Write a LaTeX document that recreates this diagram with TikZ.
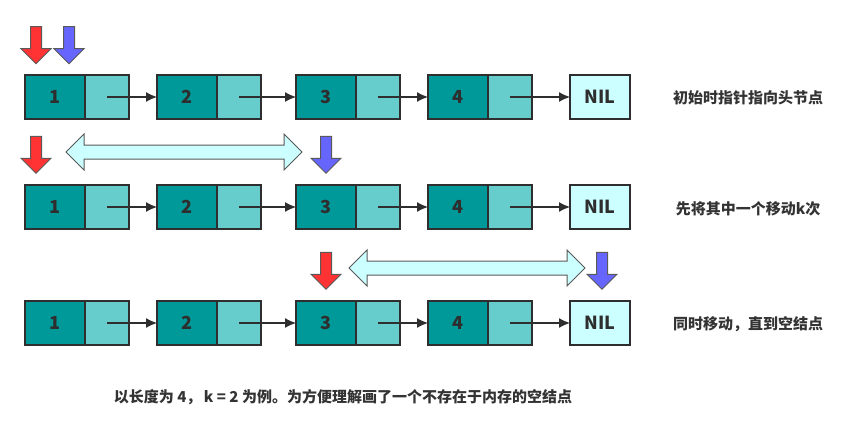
\documentclass[tikz,border=0pt]{standalone}
\usepackage{fontspec}
\setmainfont{Noto Sans CJK SC}
\usetikzlibrary{positioning, arrows.meta, shapes.arrows}

\definecolor{cellA}{HTML}{009999}
\definecolor{cellB}{HTML}{66CCCC}
\definecolor{nilfill}{HTML}{CCFFFF}
\definecolor{ptrA}{HTML}{FF3333}
\definecolor{ptrB}{HTML}{6666FF}
\definecolor{edge}{HTML}{2E2E2E}

\begin{document}
\begin{tikzpicture}[x=1pt, y=-1pt,
    cell/.style={draw=edge, line width=1.4pt, outer sep=0pt, inner sep=0pt, minimum height=44pt,
      font=\fontsize{18}{18}\selectfont\bfseries, text=edge},
    val/.style={cell, fill=cellA, minimum width=60pt},
    nxt/.style={cell, fill=cellB, minimum width=44pt},
    nilbox/.style={cell, fill=nilfill, minimum width=60pt},
    link/.style={line width=1.2pt, draw=edge, -{Latex[length=11pt, width=10pt]}},
    ptr/.style={single arrow, draw=gray!70!black, line width=1pt, rotate=-90, inner sep=5pt,
      minimum height=37pt, single arrow head extend=9.5pt, single arrow head indent=0pt},
    span/.style={double arrow, draw=gray!70!black, fill=nilfill, line width=1pt, inner sep=6.5pt,
      minimum height=236pt, double arrow head extend=11pt},
    note/.style={font=\fontsize{15}{15}\selectfont\bfseries, text=black!80}
  ]
  \useasboundingbox (0,0) rectangle (853,441);

  % the same list, three times
  \foreach \r/\y in {1/97, 2/207, 3/323}{
    \node[val, anchor=west] (d1-\r) at (25,\y) {1};
    \node[nxt, right=0pt of d1-\r] (p1-\r) {};
    \node[val, right=28pt of p1-\r] (d2-\r) {2};
    \node[nxt, right=0pt of d2-\r] (p2-\r) {};
    \node[val, right=35pt of p2-\r] (d3-\r) {3};
    \node[nxt, right=0pt of d3-\r] (p3-\r) {};
    \node[val, right=28pt of p3-\r] (d4-\r) {4};
    \node[nxt, right=0pt of d4-\r] (p4-\r) {};
    \node[nilbox, right=38pt of p4-\r] (nil-\r) {NIL};
    \draw[link] (p1-\r.center) -- (d2-\r.west);
    \draw[link] (p2-\r.center) -- (d3-\r.west);
    \draw[link] (p3-\r.center) -- (d4-\r.west);
    \draw[link] (p4-\r.center) -- (nil-\r.west);
  }

  % pointers
  \node[ptr, fill=ptrA] (slow1) at (36,42.5) {};
  \node[ptr, fill=ptrB] (fast1) at (69,42.5) {};
  \node[ptr, fill=ptrA] (slow2) at (36,152) {};
  \node[ptr, fill=ptrB] (fast2) at (326,152) {};
  \node[span] (gap2) at (184,152) {};
  \node[ptr, fill=ptrA] (slow3) at (326,268) {};
  \node[ptr, fill=ptrB] (fast3) at (602,268) {};
  \node[span] (gap3) at (467,268) {};

  \node[note] (step1) at (748,98) {初始时指针指向头节点};
  \node[note] (step2) at (748,209) {先将其中一个移动k次};
  \node[note] (step3) at (748,324) {同时移动，直到空结点};
  \node[note] (caption) at (343,397) {以长度为 4，\,k = 2 为例。为方便理解画了一个不存在于内存的空结点};
\end{tikzpicture}
\end{document}
